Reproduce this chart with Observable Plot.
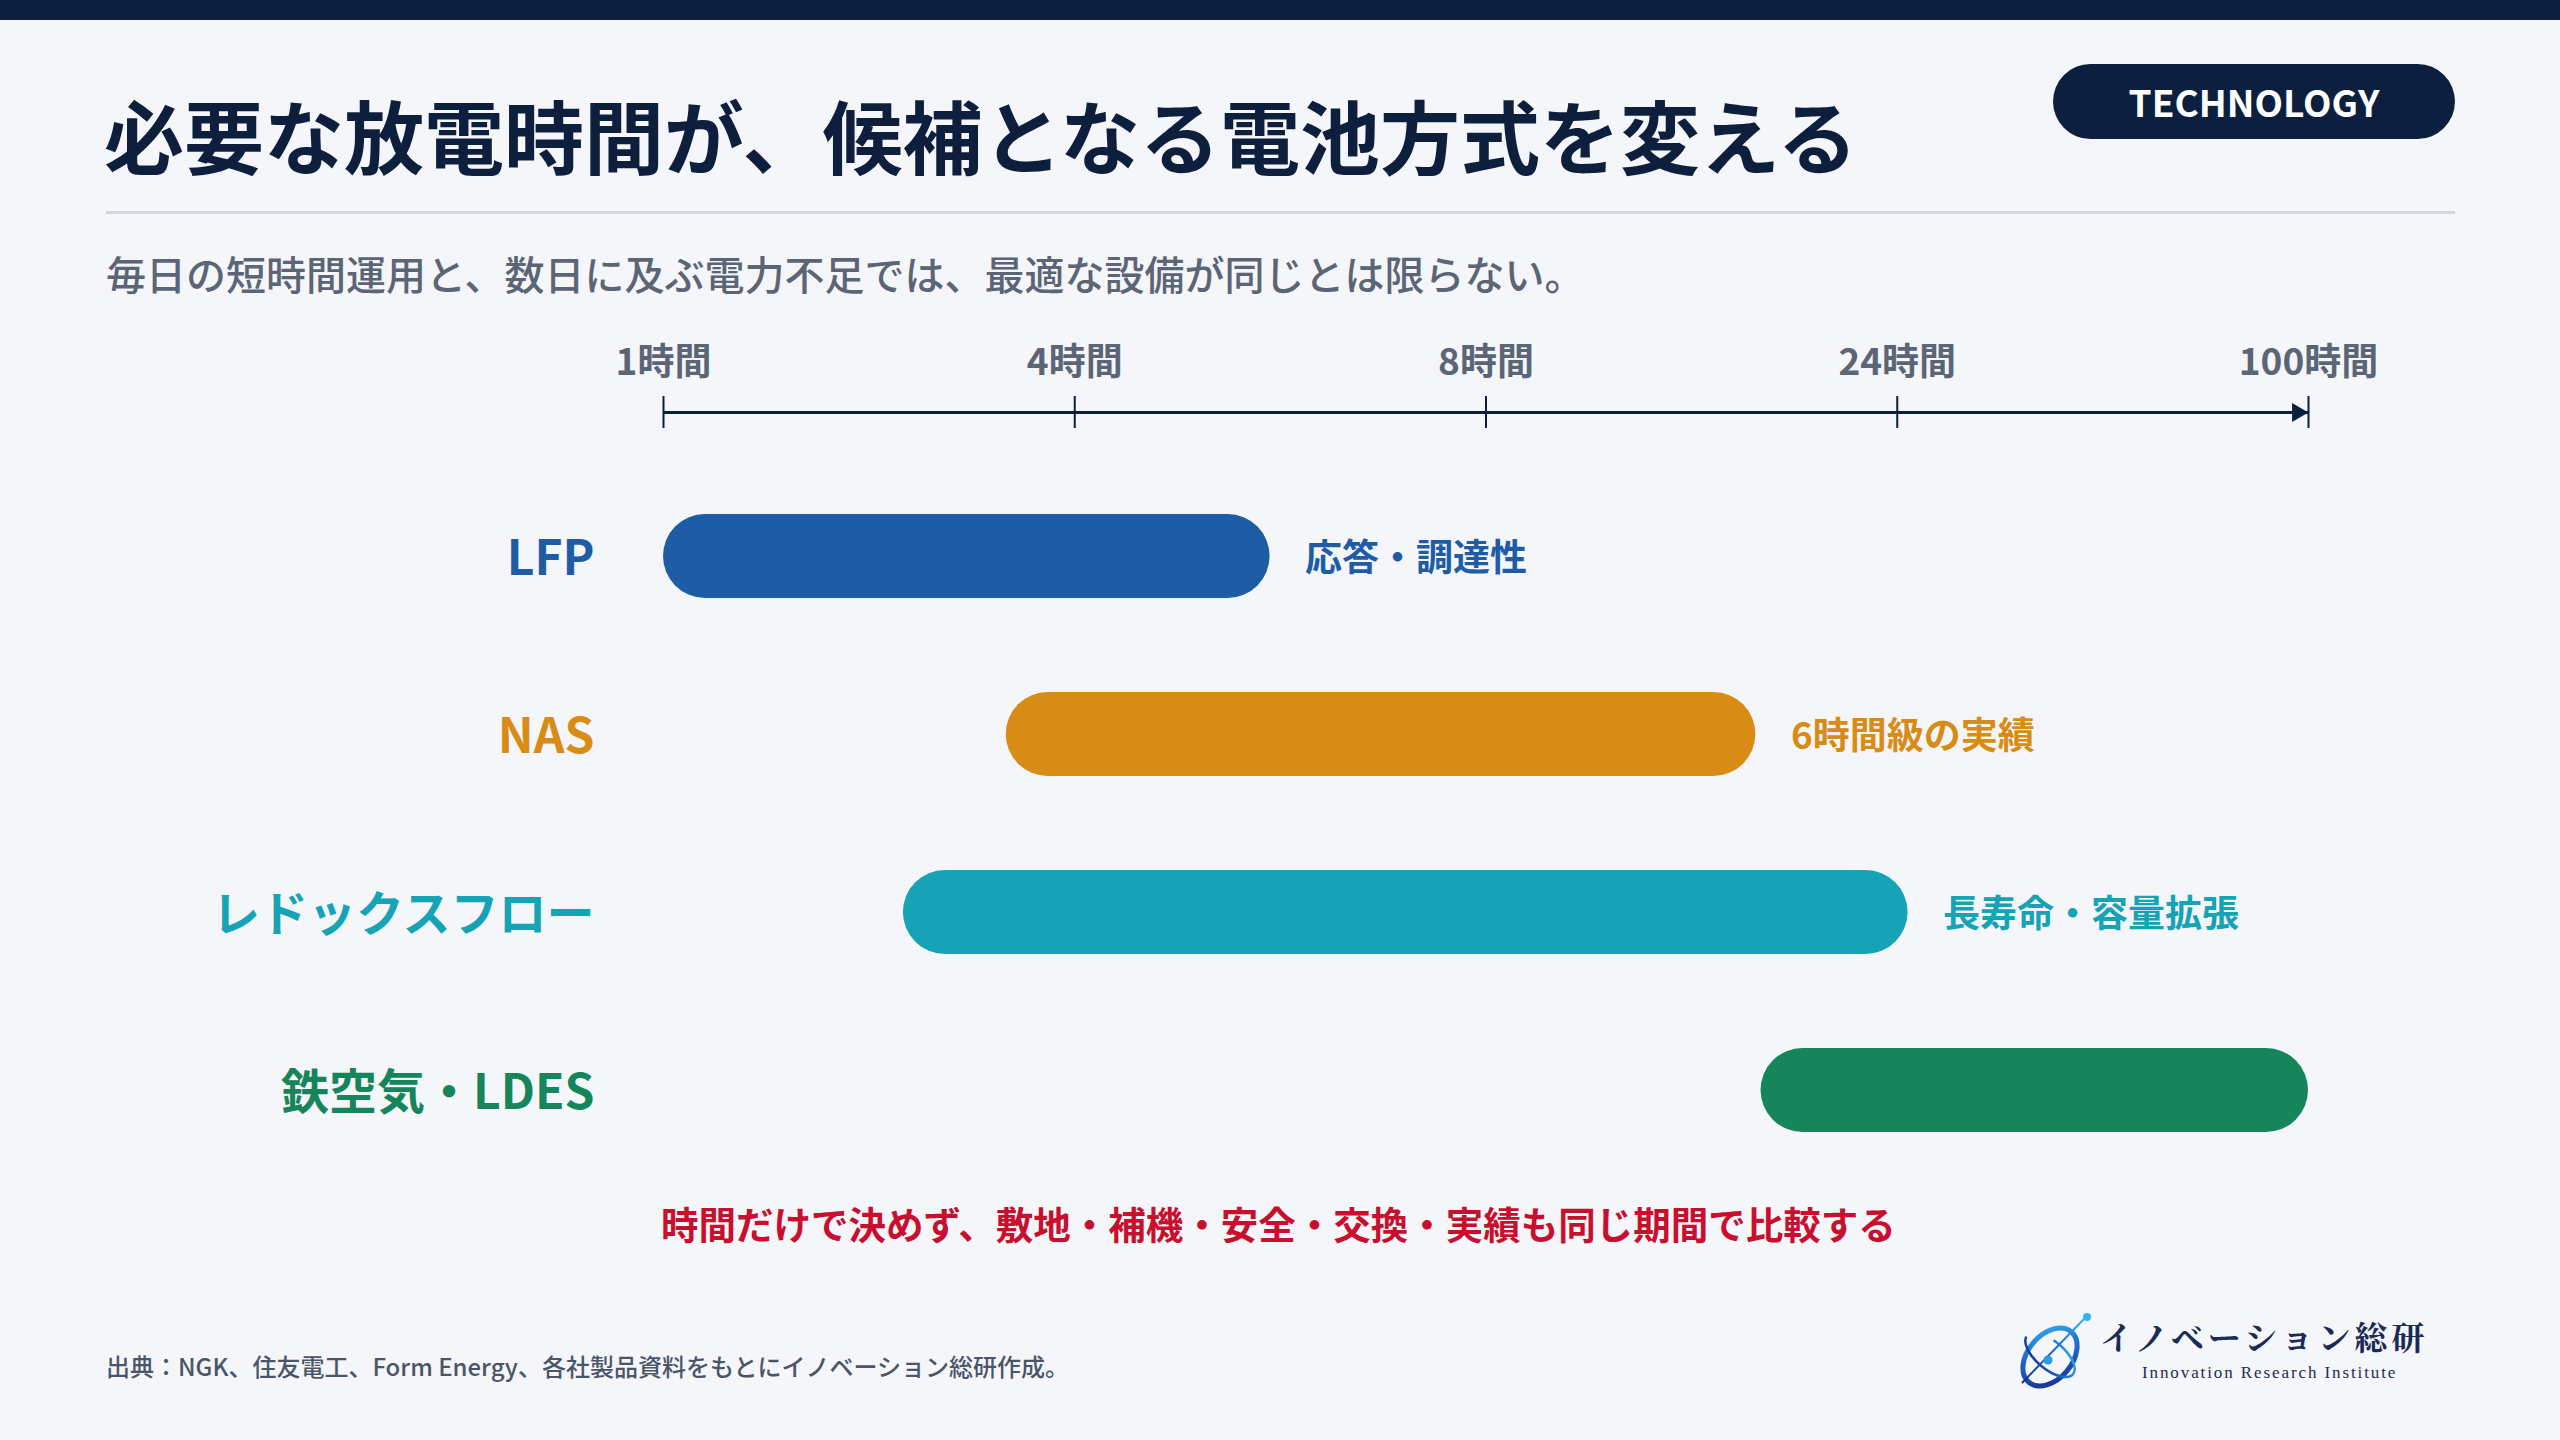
<!DOCTYPE html>
<html>
<head>
<meta charset="utf-8">
<script src="https://cdn.jsdelivr.net/npm/d3@7"></script>
<script src="https://cdn.jsdelivr.net/npm/@observablehq/plot@0.6"></script>
<style>
  html, body { margin: 0; padding: 0; background: #f4f6fa; }
  #page { position: relative; width: 2560px; height: 1440px; overflow: hidden; background: #f4f6fa;
          font-family: "Noto Sans CJK JP", "Noto Sans", sans-serif; }
  .abs { position: absolute; white-space: nowrap; }
  #topbar { left: 0; top: 0; width: 2560px; height: 20px; background: #0c1f3e; }
  #title { left: 104px; top: 93px; font-size: 80px; line-height: 80px; font-weight: 700; color: #0e1f3d; }
  #badge { left: 2053px; top: 64px; width: 402px; height: 75px; border-radius: 38px; background: #0c1f3e;
           color: #ffffff; font-size: 37px; font-weight: 700; line-height: 75px; text-align: center; }
  #rule { left: 106px; top: 211px; width: 2349px; height: 3px; background: #cfd7e2; }
  #subtitle { left: 106px; top: 253px; font-size: 40px; line-height: 40px; font-weight: 500; color: #5b6576; }
  #axisPlot { left: 0; top: 320px; }
  #rowsPlot { left: 0; top: 467px; }
  #note { left: 661px; top: 1204px; font-size: 37.5px; line-height: 38px; font-weight: 700; color: #c8102e; }
  #source { left: 106px; top: 1354px; font-size: 24px; line-height: 24px; font-weight: 500; color: #4a5568; }
  #logoIcon { left: 2014px; top: 1311px; }
  #logoText { left: 2100px; top: 1319px; font-size: 33px; line-height: 33px; letter-spacing: 4px; color: #1b2b55; font-weight: 700;
              font-family: "Noto Serif CJK JP", "Noto Sans CJK JP", serif; }
  #logoSub { left: 2142px; top: 1364px; font-size: 17px; line-height: 17px; letter-spacing: 1.9px; color: #1b2b55;
             font-family: "Liberation Serif", "DejaVu Serif", serif; }
</style>
</head>
<body>
<div id="page">
  <div id="topbar" class="abs"></div>
  <div id="title" class="abs">必要な放電時間が、候補となる電池方式を変える</div>
  <div id="badge" class="abs">TECHNOLOGY</div>
  <div id="rule" class="abs"></div>
  <div id="subtitle" class="abs">毎日の短時間運用と、数日に及ぶ電力不足では、最適な設備が同じとは限らない。</div>
  <div id="axisPlot" class="abs"></div>
  <div id="rowsPlot" class="abs"></div>
  <div id="note" class="abs">時間だけで決めず、敷地・補機・安全・交換・実績も同じ期間で比較する</div>
  <div id="source" class="abs">出典：NGK、住友電工、Form Energy、各社製品資料をもとにイノベーション総研作成。</div>
  <svg id="logoIcon" class="abs" width="82" height="82" viewBox="0 0 82 82">
    <defs>
      <linearGradient id="lg" x1="0" y1="1" x2="1" y2="0">
        <stop offset="0" stop-color="#142b8c"/>
        <stop offset="0.6" stop-color="#1f6fd0"/>
        <stop offset="1" stop-color="#35b2f0"/>
      </linearGradient>
    </defs>
    <ellipse cx="36" cy="46" rx="33" ry="22" transform="rotate(-50 36 46)" fill="none" stroke="url(#lg)" stroke-width="5"/>
    <ellipse cx="36" cy="44" rx="30" ry="14" transform="rotate(40 36 44)" fill="none" stroke="url(#lg)" stroke-width="2.5" stroke-dasharray="70 30"/>
    <line x1="8" y1="72" x2="70" y2="8" stroke="url(#lg)" stroke-width="2"/>
    <circle cx="73" cy="6" r="4" fill="#35b2f0"/>
    <circle cx="34" cy="49" r="4.5" fill="#2a9be6"/>
  </svg>
  <div id="logoText" class="abs">イノベーション総研</div>
  <div id="logoSub" class="abs">Innovation Research Institute</div>
</div>
<script>
// ---- data ----
const categories = ["LFP", "NAS", "レドックスフロー", "鉄空気・LDES"];
const startHours = [1, 3.5, 2.75, 18.7];
const endHours = [5.9, 18.5, 26, 100];
const notes = ["応答・調達性", "6時間級の実績", "長寿命・容量拡張", ""];
const tickValues = [1, 4, 8, 24, 100];
const tickLabels = ["1時間", "4時間", "8時間", "24時間", "100時間"];
const palette = ["#1f5ca6", "#d88c16", "#17a3b6", "#16855c"];

const NAVY = "#0c1f3e";
const FONT = '"Noto Sans CJK JP", "Noto Sans", sans-serif';
const rows = categories.map((name, i) => ({ name, start: startHours[i], end: endHours[i], note: notes[i] }));

const W = 2560, ML = 663, MR = 252;
const xScale = { type: "linear", domain: tickValues, axis: null };

const axisPlot = Plot.plot({
  width: W, height: 120,
  marginTop: 76, marginBottom: 12, marginLeft: ML, marginRight: MR,
  style: { background: "transparent", fontFamily: FONT, overflow: "visible" },
  x: xScale,
  y: { domain: [-1, 1], axis: null },
  marks: [
    Plot.ruleY([0], { stroke: NAVY, strokeWidth: 3 }),
    Plot.tickX(tickValues, { x: d => d, stroke: NAVY, strokeWidth: 2 }),
    Plot.dot([tickValues[tickValues.length - 1]], { x: d => d, y: () => 0, symbol: "triangle", rotate: 90, r: 7, fill: NAVY, stroke: "none", dx: -11 }),
    Plot.text(tickValues, { x: d => d, text: (d, i) => tickLabels[i], frameAnchor: "top", lineAnchor: "bottom", dy: -22,
      fontSize: 37, fontWeight: 700, fill: "#5b6576" })
  ]
});
document.getElementById("axisPlot").appendChild(axisPlot);

const rowsPlot = Plot.plot({
  width: W, height: 712,
  marginTop: 0, marginBottom: 0, marginLeft: ML, marginRight: MR,
  style: { background: "transparent", fontFamily: FONT, overflow: "visible" },
  x: xScale,
  y: { domain: categories, padding: 0, axis: null },
  color: { domain: categories, range: palette },
  marks: [
    Plot.barX(rows, { x1: "start", x2: "end", y: "name", fill: "name", rx: 42, insetTop: 47, insetBottom: 47 }),
    Plot.text(rows, { y: "name", text: "name", frameAnchor: "left", textAnchor: "end", dx: -69, dy: 3,
      fill: "name", fontSize: 48, fontWeight: 700 }),
    Plot.text(rows.filter(d => d.note), { x: "end", y: "name", text: "note", dx: 35, dy: 3, textAnchor: "start",
      fill: "name", fontSize: 37, fontWeight: 700 })
  ]
});
document.getElementById("rowsPlot").appendChild(rowsPlot);
</script>
</body>
</html>
